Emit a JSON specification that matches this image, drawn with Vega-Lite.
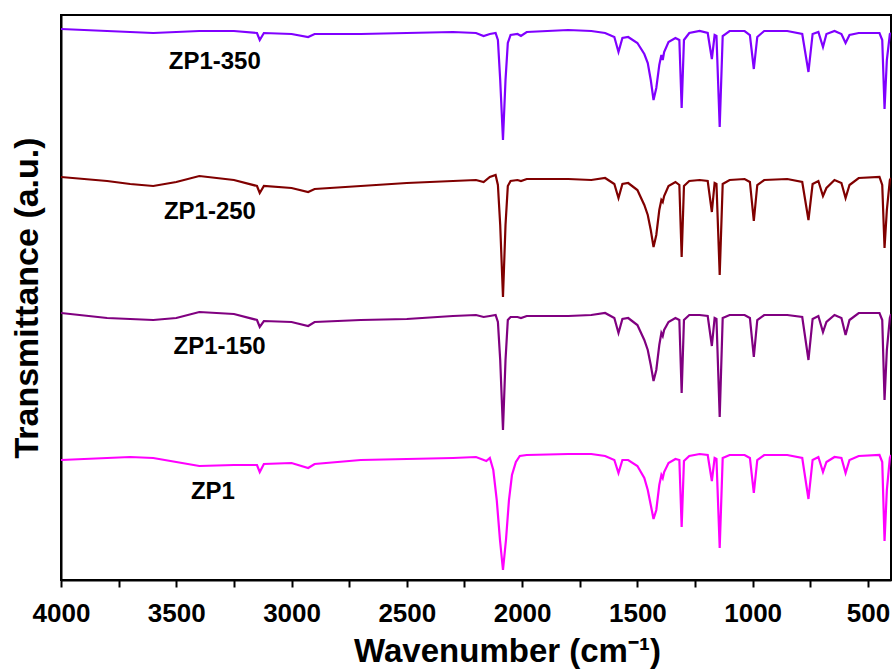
{
"$schema": "https://vega.github.io/schema/vega-lite/v6.json",
"width": 830, "height": 565,
"autosize": {"type": "none"},
"padding": {"left": 61, "top": 15, "right": 4, "bottom": 91},
"background": "white",
"config": {"view": {"stroke": "black", "strokeWidth": 2}, "font": "Liberation Sans"},
"datasets": {
"spec": [
{"s":"ZP1-350","wn":4000,"t":551},{"s":"ZP1-350","wn":3800,"t":549},{"s":"ZP1-350","wn":3700,"t":548},{"s":"ZP1-350","wn":3600,"t":547},{"s":"ZP1-350","wn":3500,"t":548},{"s":"ZP1-350","wn":3400,"t":549},{"s":"ZP1-350","wn":3250,"t":549},{"s":"ZP1-350","wn":3150,"t":547},{"s":"ZP1-350","wn":3138,"t":540},{"s":"ZP1-350","wn":3120,"t":547},{"s":"ZP1-350","wn":3000,"t":546},{"s":"ZP1-350","wn":2928,"t":543},{"s":"ZP1-350","wn":2900,"t":546},{"s":"ZP1-350","wn":2700,"t":546},{"s":"ZP1-350","wn":2500,"t":547},{"s":"ZP1-350","wn":2300,"t":548},{"s":"ZP1-350","wn":2200,"t":547},{"s":"ZP1-350","wn":2167,"t":544},{"s":"ZP1-350","wn":2140,"t":546},{"s":"ZP1-350","wn":2115,"t":547},{"s":"ZP1-350","wn":2105,"t":540},{"s":"ZP1-350","wn":2095,"t":500},{"s":"ZP1-350","wn":2083,"t":440},{"s":"ZP1-350","wn":2072,"t":500},{"s":"ZP1-350","wn":2062,"t":537},{"s":"ZP1-350","wn":2050,"t":545},{"s":"ZP1-350","wn":2020,"t":546},{"s":"ZP1-350","wn":2005,"t":544},{"s":"ZP1-350","wn":1980,"t":548},{"s":"ZP1-350","wn":1800,"t":550},{"s":"ZP1-350","wn":1700,"t":549},{"s":"ZP1-350","wn":1640,"t":547},{"s":"ZP1-350","wn":1600,"t":543},{"s":"ZP1-350","wn":1582,"t":528},{"s":"ZP1-350","wn":1565,"t":542},{"s":"ZP1-350","wn":1540,"t":543},{"s":"ZP1-350","wn":1500,"t":537},{"s":"ZP1-350","wn":1470,"t":526},{"s":"ZP1-350","wn":1455,"t":517},{"s":"ZP1-350","wn":1442,"t":500},{"s":"ZP1-350","wn":1430,"t":480},{"s":"ZP1-350","wn":1418,"t":492},{"s":"ZP1-350","wn":1405,"t":515},{"s":"ZP1-350","wn":1396,"t":525},{"s":"ZP1-350","wn":1390,"t":520},{"s":"ZP1-350","wn":1384,"t":528},{"s":"ZP1-350","wn":1365,"t":538},{"s":"ZP1-350","wn":1335,"t":542},{"s":"ZP1-350","wn":1318,"t":540},{"s":"ZP1-350","wn":1308,"t":472},{"s":"ZP1-350","wn":1298,"t":540},{"s":"ZP1-350","wn":1275,"t":547},{"s":"ZP1-350","wn":1230,"t":549},{"s":"ZP1-350","wn":1195,"t":547},{"s":"ZP1-350","wn":1177,"t":521},{"s":"ZP1-350","wn":1165,"t":545},{"s":"ZP1-350","wn":1157,"t":544},{"s":"ZP1-350","wn":1143,"t":453},{"s":"ZP1-350","wn":1130,"t":544},{"s":"ZP1-350","wn":1100,"t":549},{"s":"ZP1-350","wn":1035,"t":549},{"s":"ZP1-350","wn":1012,"t":545},{"s":"ZP1-350","wn":995,"t":511},{"s":"ZP1-350","wn":980,"t":543},{"s":"ZP1-350","wn":950,"t":549},{"s":"ZP1-350","wn":850,"t":549},{"s":"ZP1-350","wn":785,"t":546},{"s":"ZP1-350","wn":758,"t":508},{"s":"ZP1-350","wn":740,"t":546},{"s":"ZP1-350","wn":715,"t":548},{"s":"ZP1-350","wn":695,"t":533},{"s":"ZP1-350","wn":680,"t":546},{"s":"ZP1-350","wn":645,"t":549},{"s":"ZP1-350","wn":615,"t":546},{"s":"ZP1-350","wn":597,"t":537},{"s":"ZP1-350","wn":580,"t":545},{"s":"ZP1-350","wn":540,"t":547},{"s":"ZP1-350","wn":450,"t":547},{"s":"ZP1-350","wn":438,"t":540},{"s":"ZP1-350","wn":428,"t":471},{"s":"ZP1-350","wn":418,"t":520},{"s":"ZP1-350","wn":405,"t":546},{"s":"ZP1-350","wn":400,"t":547},

{"s":"ZP1-250","wn":4000,"t":403},{"s":"ZP1-250","wn":3800,"t":399},{"s":"ZP1-250","wn":3700,"t":396},{"s":"ZP1-250","wn":3600,"t":394},{"s":"ZP1-250","wn":3500,"t":398},{"s":"ZP1-250","wn":3400,"t":404},{"s":"ZP1-250","wn":3250,"t":400},{"s":"ZP1-250","wn":3150,"t":394},{"s":"ZP1-250","wn":3138,"t":387},{"s":"ZP1-250","wn":3120,"t":394},{"s":"ZP1-250","wn":3000,"t":392},{"s":"ZP1-250","wn":2928,"t":388},{"s":"ZP1-250","wn":2900,"t":391},{"s":"ZP1-250","wn":2700,"t":394},{"s":"ZP1-250","wn":2500,"t":397},{"s":"ZP1-250","wn":2300,"t":399},{"s":"ZP1-250","wn":2200,"t":400},{"s":"ZP1-250","wn":2167,"t":398},{"s":"ZP1-250","wn":2140,"t":403},{"s":"ZP1-250","wn":2115,"t":405},{"s":"ZP1-250","wn":2105,"t":395},{"s":"ZP1-250","wn":2095,"t":355},{"s":"ZP1-250","wn":2083,"t":283},{"s":"ZP1-250","wn":2072,"t":355},{"s":"ZP1-250","wn":2062,"t":394},{"s":"ZP1-250","wn":2050,"t":399},{"s":"ZP1-250","wn":2020,"t":400},{"s":"ZP1-250","wn":2005,"t":399},{"s":"ZP1-250","wn":1980,"t":401},{"s":"ZP1-250","wn":1800,"t":401},{"s":"ZP1-250","wn":1700,"t":400},{"s":"ZP1-250","wn":1640,"t":402},{"s":"ZP1-250","wn":1600,"t":396},{"s":"ZP1-250","wn":1582,"t":382},{"s":"ZP1-250","wn":1565,"t":396},{"s":"ZP1-250","wn":1540,"t":397},{"s":"ZP1-250","wn":1500,"t":390},{"s":"ZP1-250","wn":1470,"t":375},{"s":"ZP1-250","wn":1455,"t":365},{"s":"ZP1-250","wn":1442,"t":350},{"s":"ZP1-250","wn":1430,"t":333},{"s":"ZP1-250","wn":1418,"t":345},{"s":"ZP1-250","wn":1405,"t":370},{"s":"ZP1-250","wn":1396,"t":380},{"s":"ZP1-250","wn":1390,"t":378},{"s":"ZP1-250","wn":1384,"t":384},{"s":"ZP1-250","wn":1365,"t":394},{"s":"ZP1-250","wn":1335,"t":398},{"s":"ZP1-250","wn":1318,"t":395},{"s":"ZP1-250","wn":1308,"t":323},{"s":"ZP1-250","wn":1298,"t":394},{"s":"ZP1-250","wn":1275,"t":399},{"s":"ZP1-250","wn":1230,"t":400},{"s":"ZP1-250","wn":1195,"t":399},{"s":"ZP1-250","wn":1177,"t":368},{"s":"ZP1-250","wn":1165,"t":397},{"s":"ZP1-250","wn":1157,"t":396},{"s":"ZP1-250","wn":1143,"t":305},{"s":"ZP1-250","wn":1130,"t":396},{"s":"ZP1-250","wn":1100,"t":400},{"s":"ZP1-250","wn":1035,"t":401},{"s":"ZP1-250","wn":1012,"t":398},{"s":"ZP1-250","wn":995,"t":359},{"s":"ZP1-250","wn":980,"t":395},{"s":"ZP1-250","wn":950,"t":400},{"s":"ZP1-250","wn":850,"t":401},{"s":"ZP1-250","wn":785,"t":398},{"s":"ZP1-250","wn":758,"t":360},{"s":"ZP1-250","wn":740,"t":396},{"s":"ZP1-250","wn":715,"t":399},{"s":"ZP1-250","wn":695,"t":384},{"s":"ZP1-250","wn":680,"t":392},{"s":"ZP1-250","wn":645,"t":400},{"s":"ZP1-250","wn":615,"t":397},{"s":"ZP1-250","wn":597,"t":382},{"s":"ZP1-250","wn":580,"t":395},{"s":"ZP1-250","wn":540,"t":402},{"s":"ZP1-250","wn":450,"t":403},{"s":"ZP1-250","wn":438,"t":395},{"s":"ZP1-250","wn":428,"t":332},{"s":"ZP1-250","wn":418,"t":370},{"s":"ZP1-250","wn":405,"t":400},{"s":"ZP1-250","wn":400,"t":402},

{"s":"ZP1-150","wn":4000,"t":267},{"s":"ZP1-150","wn":3800,"t":262},{"s":"ZP1-150","wn":3700,"t":261},{"s":"ZP1-150","wn":3600,"t":260},{"s":"ZP1-150","wn":3500,"t":262},{"s":"ZP1-150","wn":3400,"t":268},{"s":"ZP1-150","wn":3250,"t":266},{"s":"ZP1-150","wn":3150,"t":260},{"s":"ZP1-150","wn":3138,"t":253},{"s":"ZP1-150","wn":3120,"t":259},{"s":"ZP1-150","wn":3000,"t":258},{"s":"ZP1-150","wn":2928,"t":254},{"s":"ZP1-150","wn":2900,"t":258},{"s":"ZP1-150","wn":2700,"t":260},{"s":"ZP1-150","wn":2500,"t":261},{"s":"ZP1-150","wn":2300,"t":264},{"s":"ZP1-150","wn":2200,"t":265},{"s":"ZP1-150","wn":2167,"t":263},{"s":"ZP1-150","wn":2140,"t":264},{"s":"ZP1-150","wn":2115,"t":265},{"s":"ZP1-150","wn":2105,"t":258},{"s":"ZP1-150","wn":2095,"t":220},{"s":"ZP1-150","wn":2083,"t":150},{"s":"ZP1-150","wn":2072,"t":220},{"s":"ZP1-150","wn":2062,"t":260},{"s":"ZP1-150","wn":2050,"t":263},{"s":"ZP1-150","wn":2020,"t":263},{"s":"ZP1-150","wn":2005,"t":262},{"s":"ZP1-150","wn":1980,"t":264},{"s":"ZP1-150","wn":1800,"t":264},{"s":"ZP1-150","wn":1700,"t":265},{"s":"ZP1-150","wn":1640,"t":267},{"s":"ZP1-150","wn":1600,"t":262},{"s":"ZP1-150","wn":1582,"t":247},{"s":"ZP1-150","wn":1565,"t":261},{"s":"ZP1-150","wn":1540,"t":262},{"s":"ZP1-150","wn":1500,"t":255},{"s":"ZP1-150","wn":1470,"t":240},{"s":"ZP1-150","wn":1455,"t":230},{"s":"ZP1-150","wn":1442,"t":215},{"s":"ZP1-150","wn":1430,"t":199},{"s":"ZP1-150","wn":1418,"t":210},{"s":"ZP1-150","wn":1405,"t":235},{"s":"ZP1-150","wn":1396,"t":247},{"s":"ZP1-150","wn":1390,"t":244},{"s":"ZP1-150","wn":1384,"t":250},{"s":"ZP1-150","wn":1365,"t":258},{"s":"ZP1-150","wn":1335,"t":262},{"s":"ZP1-150","wn":1318,"t":260},{"s":"ZP1-150","wn":1308,"t":187},{"s":"ZP1-150","wn":1298,"t":260},{"s":"ZP1-150","wn":1275,"t":265},{"s":"ZP1-150","wn":1230,"t":265},{"s":"ZP1-150","wn":1195,"t":264},{"s":"ZP1-150","wn":1177,"t":234},{"s":"ZP1-150","wn":1165,"t":262},{"s":"ZP1-150","wn":1157,"t":261},{"s":"ZP1-150","wn":1143,"t":163},{"s":"ZP1-150","wn":1130,"t":262},{"s":"ZP1-150","wn":1100,"t":265},{"s":"ZP1-150","wn":1035,"t":265},{"s":"ZP1-150","wn":1012,"t":262},{"s":"ZP1-150","wn":995,"t":223},{"s":"ZP1-150","wn":980,"t":260},{"s":"ZP1-150","wn":950,"t":265},{"s":"ZP1-150","wn":850,"t":265},{"s":"ZP1-150","wn":785,"t":263},{"s":"ZP1-150","wn":758,"t":220},{"s":"ZP1-150","wn":740,"t":261},{"s":"ZP1-150","wn":715,"t":264},{"s":"ZP1-150","wn":695,"t":248},{"s":"ZP1-150","wn":680,"t":258},{"s":"ZP1-150","wn":645,"t":265},{"s":"ZP1-150","wn":615,"t":262},{"s":"ZP1-150","wn":597,"t":245},{"s":"ZP1-150","wn":580,"t":260},{"s":"ZP1-150","wn":540,"t":267},{"s":"ZP1-150","wn":450,"t":267},{"s":"ZP1-150","wn":438,"t":260},{"s":"ZP1-150","wn":428,"t":180},{"s":"ZP1-150","wn":418,"t":230},{"s":"ZP1-150","wn":405,"t":262},{"s":"ZP1-150","wn":400,"t":266},

{"s":"ZP1","wn":4000,"t":120},{"s":"ZP1","wn":3800,"t":122},{"s":"ZP1","wn":3700,"t":123},{"s":"ZP1","wn":3600,"t":122},{"s":"ZP1","wn":3500,"t":118},{"s":"ZP1","wn":3400,"t":114},{"s":"ZP1","wn":3250,"t":115},{"s":"ZP1","wn":3150,"t":115},{"s":"ZP1","wn":3138,"t":108},{"s":"ZP1","wn":3120,"t":116},{"s":"ZP1","wn":3000,"t":117},{"s":"ZP1","wn":2928,"t":112},{"s":"ZP1","wn":2900,"t":116},{"s":"ZP1","wn":2700,"t":120},{"s":"ZP1","wn":2500,"t":121},{"s":"ZP1","wn":2300,"t":122},{"s":"ZP1","wn":2200,"t":123},{"s":"ZP1","wn":2155,"t":119},{"s":"ZP1","wn":2140,"t":122},{"s":"ZP1","wn":2125,"t":110},{"s":"ZP1","wn":2110,"t":80},{"s":"ZP1","wn":2096,"t":40},{"s":"ZP1","wn":2083,"t":10},{"s":"ZP1","wn":2070,"t":40},{"s":"ZP1","wn":2057,"t":80},{"s":"ZP1","wn":2044,"t":105},{"s":"ZP1","wn":2027,"t":118},{"s":"ZP1","wn":2010,"t":124},{"s":"ZP1","wn":1980,"t":125},{"s":"ZP1","wn":1800,"t":126},{"s":"ZP1","wn":1700,"t":126},{"s":"ZP1","wn":1640,"t":124},{"s":"ZP1","wn":1600,"t":120},{"s":"ZP1","wn":1582,"t":107},{"s":"ZP1","wn":1565,"t":120},{"s":"ZP1","wn":1540,"t":120},{"s":"ZP1","wn":1500,"t":114},{"s":"ZP1","wn":1470,"t":102},{"s":"ZP1","wn":1455,"t":90},{"s":"ZP1","wn":1442,"t":75},{"s":"ZP1","wn":1430,"t":61},{"s":"ZP1","wn":1418,"t":70},{"s":"ZP1","wn":1405,"t":95},{"s":"ZP1","wn":1396,"t":105},{"s":"ZP1","wn":1390,"t":102},{"s":"ZP1","wn":1384,"t":108},{"s":"ZP1","wn":1365,"t":117},{"s":"ZP1","wn":1335,"t":121},{"s":"ZP1","wn":1318,"t":120},{"s":"ZP1","wn":1308,"t":53},{"s":"ZP1","wn":1298,"t":119},{"s":"ZP1","wn":1275,"t":124},{"s":"ZP1","wn":1230,"t":126},{"s":"ZP1","wn":1195,"t":125},{"s":"ZP1","wn":1177,"t":99},{"s":"ZP1","wn":1165,"t":122},{"s":"ZP1","wn":1157,"t":121},{"s":"ZP1","wn":1143,"t":32},{"s":"ZP1","wn":1130,"t":122},{"s":"ZP1","wn":1100,"t":125},{"s":"ZP1","wn":1035,"t":125},{"s":"ZP1","wn":1012,"t":122},{"s":"ZP1","wn":995,"t":87},{"s":"ZP1","wn":980,"t":120},{"s":"ZP1","wn":950,"t":125},{"s":"ZP1","wn":850,"t":125},{"s":"ZP1","wn":785,"t":122},{"s":"ZP1","wn":758,"t":81},{"s":"ZP1","wn":740,"t":120},{"s":"ZP1","wn":715,"t":123},{"s":"ZP1","wn":695,"t":108},{"s":"ZP1","wn":680,"t":118},{"s":"ZP1","wn":645,"t":123},{"s":"ZP1","wn":615,"t":122},{"s":"ZP1","wn":597,"t":107},{"s":"ZP1","wn":580,"t":120},{"s":"ZP1","wn":540,"t":124},{"s":"ZP1","wn":450,"t":125},{"s":"ZP1","wn":438,"t":118},{"s":"ZP1","wn":428,"t":39},{"s":"ZP1","wn":418,"t":90},{"s":"ZP1","wn":405,"t":122},{"s":"ZP1","wn":400,"t":125}
],
"labels": [
{"s":"ZP1-350","wn":3333,"t":518},
{"s":"ZP1-250","wn":3354,"t":368},
{"s":"ZP1-150","wn":3312,"t":233},
{"s":"ZP1","wn":3341,"t":88}
]
},
"layer": [
{
"data": {"name": "spec"},
"mark": {"type": "line", "strokeWidth": 2.2, "clip": true},
"encoding": {
"x": {"field": "wn", "type": "quantitative",
"scale": {"domain": [400, 4000], "reverse": true, "nice": false, "zero": false},
"axis": {
"title": "Wavenumber (cm⁻¹)",
"values": [4000,3750,3500,3250,3000,2750,2500,2250,2000,1750,1500,1250,1000,750,500],
"labelExpr": "datum.value % 500 === 0 ? datum.value : ''",
"labelFlush": false, "labelFont": "Liberation Sans", "labelFontWeight": "bold", "labelFontSize": 26, "labelColor": "black",
"labelBaseline": "alphabetic", "labelPadding": 34,
"tickSize": 7, "tickWidth": 2, "tickColor": "black",
"domainColor": "black", "domainWidth": 2, "grid": false,
"titleFont": "Liberation Sans", "titleFontWeight": "bold", "titleFontSize": 33, "titleColor": "black",
"titleX": 446, "titleY": 81, "titleBaseline": "alphabetic", "titleAlign": "center"
}},
"y": {"field": "t", "type": "quantitative",
"scale": {"domain": [0, 565], "nice": false, "zero": false},
"axis": {
"title": "Transmittance (a.u.)", "labels": false, "ticks": false, "grid": false,
"domainColor": "black", "domainWidth": 2,
"titleFont": "Liberation Sans", "titleFontWeight": "bold", "titleFontSize": 34, "titleColor": "black",
"titlePadding": 17
}},
"color": {"field": "s", "type": "nominal",
"scale": {"domain": ["ZP1-350","ZP1-250","ZP1-150","ZP1"], "range": ["#8000FF","#800000","#800080","#FF00FF"]},
"legend": null}
}
},
{
"data": {"name": "labels"},
"mark": {"type": "text", "font": "Liberation Sans", "fontWeight": "bold", "fontSize": 24, "color": "black", "align": "center", "baseline": "middle"},
"encoding": {
"x": {"field": "wn", "type": "quantitative"},
"y": {"field": "t", "type": "quantitative"},
"text": {"field": "s", "type": "nominal"}
}
}
]
}
